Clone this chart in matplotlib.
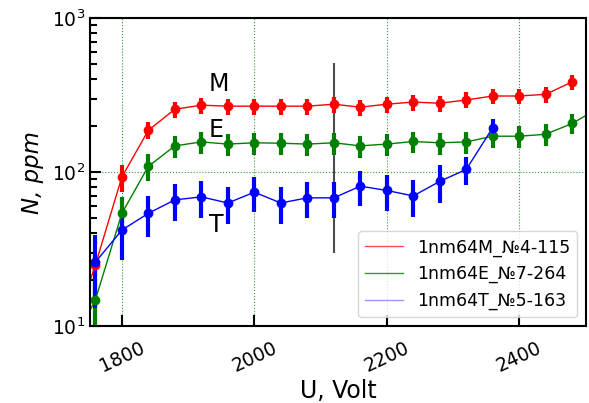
import matplotlib
matplotlib.use("Agg")
import matplotlib.pyplot as plt
from matplotlib.lines import Line2D

U_M = [1720, 1760, 1800, 1840, 1880, 1920, 1960, 2000, 2040, 2080, 2120, 2160, 2200, 2240, 2280, 2320, 2360, 2400, 2440, 2480]
N_M = [7.6, 25, 93, 187, 256, 272, 268, 268, 268, 268, 276, 264, 276, 285, 280, 294, 312, 312, 320, 385]
E_M = [2, 4, 19, 24, 31, 33, 32, 32, 32, 32, 33, 32, 33, 34, 34, 35, 37, 37, 38, 42]

U_E = [1720, 1760, 1800, 1840, 1880, 1920, 1960, 2000, 2040, 2080, 2120, 2160, 2200, 2240, 2280, 2320, 2360, 2400, 2440, 2480, 2520]
N_E = [6.9, 14.8, 54, 109, 148, 157, 152, 155, 154, 152, 155, 148, 152, 158, 155, 157, 171, 171, 176, 207, 260]
E_E = [2.5, 5.5, 15, 22, 24, 25, 24, 25, 25, 24, 25, 24, 24, 25, 25, 25, 27, 27, 28, 30, 35]

U_T = [1720, 1760, 1800, 1840, 1880, 1920, 1960, 2000, 2040, 2080, 2120, 2160, 2200, 2240, 2280, 2320, 2360]
N_T = [18.7, 26, 42, 54, 66, 69, 63, 74, 63, 68, 68, 81, 76, 70, 87, 104, 194]
E_T = [8, 13, 15, 16, 18, 19, 17, 19, 17, 18, 18, 21, 20, 19, 24, 21, 28]

labels = ["1nm64M_№4-115", "1nm64E_№7-264", "1nm64T_№5-163"]

fig = plt.figure(figsize=(5.89, 4.03), dpi=100)
ax = fig.add_axes([0.153, 0.191, 0.842, 0.764])

ax.errorbar(U_M, N_M, yerr=E_M, color='red', marker='o', ms=6, lw=1, elinewidth=3,
            capsize=0, label=labels[0])
ax.errorbar(U_E, N_E, yerr=E_E, color='green', marker='o', ms=6, lw=1, elinewidth=3,
            capsize=0, label=labels[1])
ax.errorbar(U_T, N_T, yerr=E_T, color='blue', marker='o', ms=6, lw=1, elinewidth=3,
            capsize=0, label=labels[2])

ax.vlines(2120, 30, 510, color='0.3', lw=1.5, zorder=1)

ax.text(1946, 372, "M", fontsize=17, ha='center', va='center')
ax.text(1943, 188, "E", fontsize=17, ha='center', va='center')
ax.text(1942, 45, "T", fontsize=17, ha='center', va='center')

ax.set_yscale('log')
ax.set_xlim(1752, 2501)
ax.set_ylim(10, 1000)
ax.set_xticks([1800, 2000, 2200, 2400])
ax.grid(True, which='major', color='green', linestyle=':', lw=0.8, alpha=0.8)
ax.tick_params(axis='both', which='major', direction='in', length=8, width=1.5, labelsize=13.5)
ax.tick_params(axis='y', which='minor', direction='in', length=5, width=1.5)
ax.tick_params(axis='x', which='major', pad=9)
plt.setp(ax.get_xticklabels(), rotation=25)
for s in ax.spines.values():
    s.set_linewidth(1.5)

ax.set_xlabel("U, Volt", fontsize=17, labelpad=2)
ax.set_ylabel("N, ppm", fontsize=16.5, style='italic', labelpad=6)

handles = [Line2D([], [], color='red', lw=1, alpha=0.7),
           Line2D([], [], color='green', lw=1, alpha=0.8),
           Line2D([], [], color='blue', lw=1, alpha=0.4)]
ax.legend(handles, labels, loc='lower right', fontsize=12.5, framealpha=0.8,
          borderaxespad=0.5, handlelength=2.2)

fig.savefig("out.png", dpi=100)
